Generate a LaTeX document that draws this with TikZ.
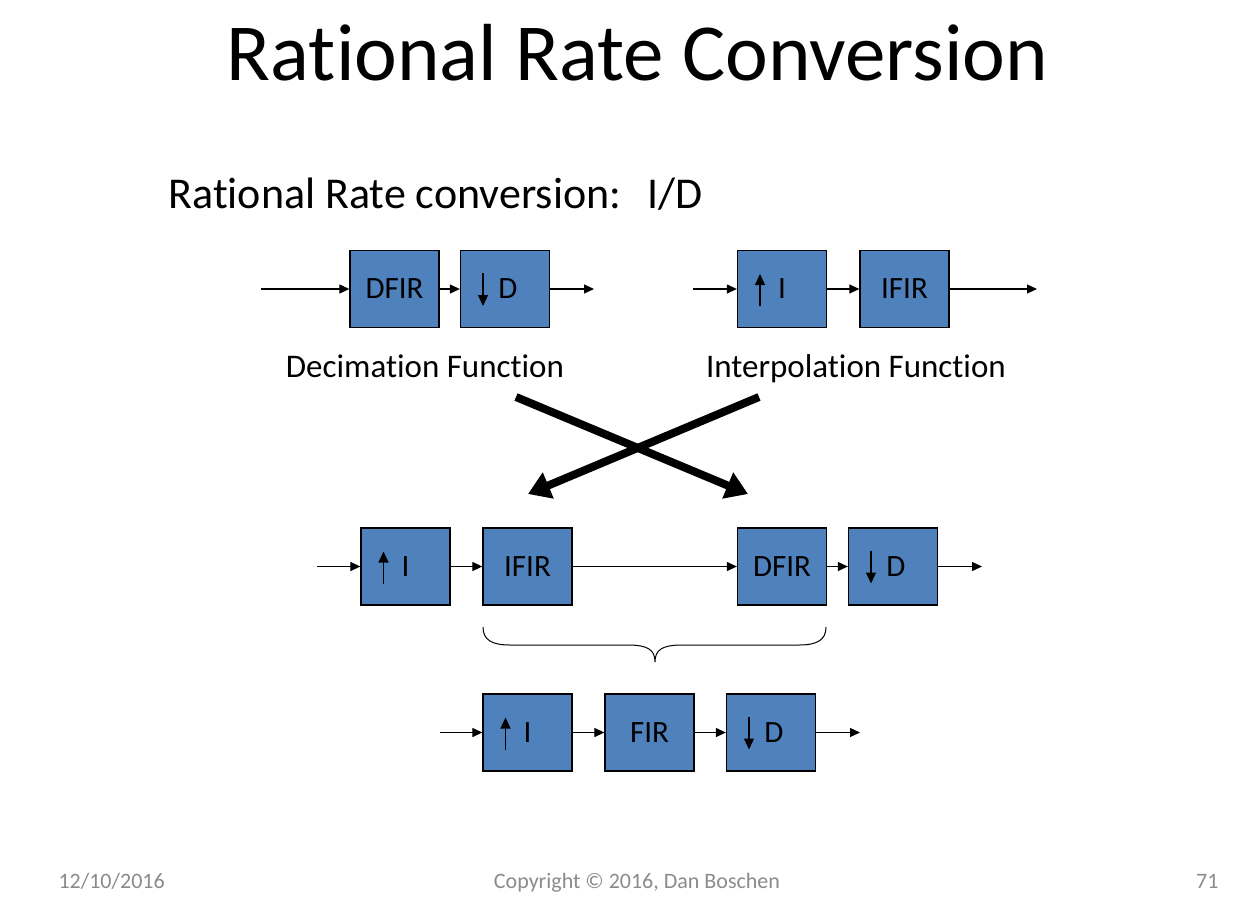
\documentclass[tikz,border=0pt]{standalone}
\usepackage{fontspec}
\setmainfont{Carlito}[Ligatures=NoCommon]
\usetikzlibrary{arrows.meta,positioning,calc}

\definecolor{boxblue}{HTML}{4F81BD}
\definecolor{footgray}{HTML}{8B8B8B}

\tikzset{
  block/.style={draw=black, line width=1.3pt, fill=boxblue, minimum width=89pt,
    minimum height=77pt, inner sep=0pt, font=\fontsize{31}{36}\selectfont},
  flow/.style={-{Triangle[length=10pt,width=9pt]}, line width=1.2pt},
  ratearr/.style={-{Triangle[length=11pt,width=10pt]}, line width=1.2pt},
  bigarr/.style={-{Triangle[length=22pt,width=27pt]}, line width=8pt},
  caption/.style={anchor=base, font=\fontsize{33}{38}\selectfont},
  foot/.style={anchor=base, text=footgray, font=\fontsize{22}{26}\selectfont}
}

\begin{document}
\begin{tikzpicture}[x=1pt,y=-1pt]
    \useasboundingbox[fill=white] (0,0) rectangle (1260,910);

    % Title
    \node[anchor=base, font=\fontsize{81}{93}\selectfont] (title) at (637.5,80) {Rational Rate Conversion};
    \node[anchor=base west, font=\fontsize{44}{52}\selectfont] (sub) at (165,208) {Rational Rate conversion:\hspace{26pt}I/D};

    % Decimation
    \node[block] (dfirA) at (394.5,289) {DFIR};
    \node[block] (dA) at (505,289) {\hspace{6pt}D};
    \coordinate (inA) at (261,289);
    \coordinate (outA) at (594,289);
    \draw[flow] (inA) -- (dfirA);
    \draw[flow] (dfirA) -- (dA);
    \draw[flow] (dA) -- (outA);
    \node[caption] (declab) at (425,377) {Decimation Function};

    % Interpolation
    \node[block] (iA) at (782,289) {I};
    \node[block] (ifirA) at (904.5,289) {IFIR};
    \coordinate (inB) at (693,289);
    \coordinate (outB) at (1037,289);
    \draw[flow] (inB) -- (iA);
    \draw[flow] (iA) -- (ifirA);
    \draw[flow] (ifirA) -- (outB);
    \node[caption] (intlab) at (856,377) {Interpolation Function};

    % Swap arrows
    \coordinate (xa) at (516,397);
    \coordinate (xb) at (748,494);
    \coordinate (xc) at (759,397);
    \coordinate (xd) at (528,494);
    \draw[bigarr] (xa) -- (xb);
    \draw[bigarr] (xc) -- (xd);

    % Cascade
    \node[block] (iB) at (405.5,566.5) {I};
    \node[block] (ifirB) at (527.5,566.5) {IFIR};
    \node[block] (dfirB) at (782,566.5) {DFIR};
    \node[block] (dB) at (893,566.5) {\hspace{6pt}D};
    \coordinate (inC) at (317,566.5);
    \coordinate (outC) at (982,566.5);
    \draw[flow] (inC) -- (iB);
    \draw[flow] (iB) -- (ifirB);
    \draw[flow] (ifirB) -- (dfirB);
    \draw[flow] (dfirB) -- (dB);
    \draw[flow] (dB) -- (outC);

    % Brace
    \draw[line width=1pt] (483,627) .. controls (483,640) and (492,645) .. (510,645) -- (628,645)
        .. controls (648,645) and (655,650) .. (655,662) .. controls (655,650) and (662,645) .. (682,645)
        -- (799,645) .. controls (817,645) and (826,640) .. (826,627);

    % Combined
    \node[block] (iC) at (527.5,732.5) {I};
    \node[block] (firC) at (649.5,732.5) {FIR};
    \node[block] (dC) at (771,732.5) {\hspace{6pt}D};
    \coordinate (inD) at (440,732.5);
    \coordinate (outD) at (860,732.5);
    \draw[flow] (inD) -- (iC);
    \draw[flow] (iC) -- (firC);
    \draw[flow] (firC) -- (dC);
    \draw[flow] (dC) -- (outD);

    % Up / down symbols
    \foreach \n in {iA,iB,iC}
        \draw[ratearr] ([xshift=-22pt,yshift=-17pt]\n.center) -- ++(0,-32);
    \foreach \n in {dA,dB,dC}
        \draw[ratearr] ([xshift=-22pt,yshift=16pt]\n.center) -- ++(0,33);

    % Footer
    \node[foot, anchor=base west] (date) at (55,888) {12/10/2016};
    \node[foot] (copy) at (637,888) {Copyright © 2016, Dan Boschen};
    \node[foot, anchor=base east] (page) at (1222,888) {71};
\end{tikzpicture}
\end{document}
